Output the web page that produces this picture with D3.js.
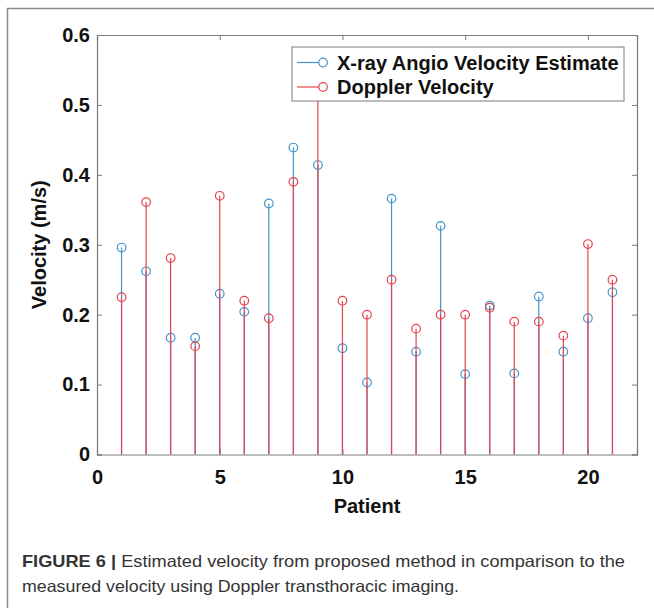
<!DOCTYPE html>
<html>
<head>
<meta charset="utf-8">
<script src="https://cdn.jsdelivr.net/npm/d3@7"></script>
<style>
  body { margin: 0; background: #fff; }
  .tick text { font-family: "Liberation Sans", Arial, sans-serif; font-weight: bold; font-size: 20px; fill: #111; }
  .tick line, .domain { stroke: #7a7a7a; }
</style>
</head>
<body>
<div id="chart"></div>
<script>
// data
var patients = [1,2,3,4,5,6,7,8,9,10,11,12,13,14,15,16,17,18,19,20,21];
var angio   = [0.296,0.262,0.167,0.167,0.230,0.204,0.359,0.439,0.414,0.152,0.103,0.366,0.147,0.327,0.115,0.213,0.116,0.226,0.147,0.195,0.232];
var doppler = [0.225,0.361,0.281,0.155,0.370,0.220,0.195,0.390,0.550,0.220,0.200,0.250,0.180,0.200,0.200,0.210,0.190,0.190,0.170,0.301,0.250];
var xTicks = [0,5,10,15,20];
var yTicks = [0,0.1,0.2,0.3,0.4,0.5,0.6];
var seriesNames = ["X-ray Angio Velocity Estimate", "Doppler Velocity"];
var seriesColors = ["#4295cc", "#e3434d"];

var svgWidth = 654, svgHeight = 608;
var margin = {top: 35, right: 17, bottom: 153.5, left: 97};
var width = svgWidth - margin.left - margin.right;
var height = svgHeight - margin.top - margin.bottom;

var svg = d3.select("#chart").append("svg")
  .attr("width", svgWidth)
  .attr("height", svgHeight);

// figure frame (only left/top edges fall inside the picture)
svg.append("rect")
  .attr("x", 7.5).attr("y", 8.5)
  .attr("width", 700).attr("height", 700)
  .attr("fill", "none")
  .attr("stroke", "#8a8a8a")
  .attr("stroke-width", 1.5);

var chartGroup = svg.append("g")
  .attr("transform", `translate(${margin.left}, ${margin.top})`);

var x = d3.scaleLinear().domain([0, 22]).range([0, width]);
var y = d3.scaleLinear().domain([0, 0.6]).range([height, 0]);

chartGroup.append("defs").append("clipPath").attr("id", "plotclip")
  .append("rect").attr("width", width).attr("height", height);

// axes, ticks point inward like matlab
chartGroup.append("g")
  .attr("transform", `translate(0, ${height})`)
  .call(d3.axisBottom(x).tickValues(xTicks).tickSize(-5).tickPadding(15).tickFormat(d3.format("d")));
chartGroup.append("g")
  .call(d3.axisTop(x).tickValues(xTicks).tickSize(-5).tickFormat(""));
chartGroup.append("g")
  .call(d3.axisLeft(y).tickValues(yTicks).tickSize(-5).tickPadding(7).tickFormat(d => d === 0 ? "0" : d3.format(".1f")(d)));
chartGroup.append("g")
  .attr("transform", `translate(${width}, 0)`)
  .call(d3.axisRight(y).tickValues(yTicks).tickSize(-5).tickFormat(""));
chartGroup.selectAll(".domain").attr("stroke-width", 1.2);

// stems
var plot = chartGroup.append("g").attr("clip-path", "url(#plotclip)");
[angio, doppler].forEach(function(vals, i) {
  var g = plot.append("g");
  g.selectAll("line")
    .data(vals)
    .enter()
    .append("line")
    .attr("x1", (d, j) => x(patients[j]))
    .attr("x2", (d, j) => x(patients[j]))
    .attr("y1", y(0))
    .attr("y2", d => y(d))
    .attr("stroke", seriesColors[i])
    .attr("stroke-width", 1.2);
  g.selectAll("circle")
    .data(vals)
    .enter()
    .append("circle")
    .attr("cx", (d, j) => x(patients[j]))
    .attr("cy", d => y(d))
    .attr("r", 4.3)
    .attr("fill", "none")
    .attr("stroke", seriesColors[i])
    .attr("stroke-width", 1.2);
});

// legend
var legend = chartGroup.append("g").attr("transform", `translate(${292 - margin.left}, ${47 - margin.top})`);
legend.append("rect")
  .attr("width", 332).attr("height", 54)
  .attr("fill", "#fff")
  .attr("stroke", "#7a7a7a")
  .attr("stroke-width", 1);
seriesNames.forEach(function(name, i) {
  var ly = 15.5 + i * 24.5;
  legend.append("line").attr("x1", 5).attr("x2", 31).attr("y1", ly).attr("y2", ly)
    .attr("stroke", seriesColors[i]).attr("stroke-width", 1.2);
  legend.append("circle").attr("cx", 31).attr("cy", ly).attr("r", 4.3)
    .attr("fill", "#fff").attr("stroke", seriesColors[i]).attr("stroke-width", 1.2);
  legend.append("text")
    .attr("x", 45).attr("y", ly).attr("dy", "0.35em")
    .attr("font-family", "Liberation Sans, Arial, sans-serif")
    .attr("font-weight", "bold").attr("font-size", "20px")
    .attr("fill", "#111")
    .text(name);
});

// axis labels
chartGroup.append("text")
  .attr("transform", "rotate(-90)")
  .attr("x", -height / 2)
  .attr("y", -51)
  .attr("text-anchor", "middle")
  .attr("font-family", "Liberation Sans, Arial, sans-serif")
  .attr("font-weight", "bold").attr("font-size", "20px")
  .attr("fill", "#111")
  .text("Velocity (m/s)");

chartGroup.append("text")
  .attr("x", width / 2)
  .attr("y", height + 58)
  .attr("text-anchor", "middle")
  .attr("font-family", "Liberation Sans, Arial, sans-serif")
  .attr("font-weight", "bold").attr("font-size", "20px")
  .attr("fill", "#111")
  .text("Patient");

// caption
var cap = svg.append("text")
  .attr("x", 22).attr("y", 567)
  .attr("font-family", "Liberation Sans, Arial, sans-serif")
  .attr("font-size", "16.5px")
  .attr("fill", "#333")
  .attr("textLength", 603)
  .attr("lengthAdjust", "spacingAndGlyphs");
cap.append("tspan").attr("font-weight", "bold").text("FIGURE 6 |");
cap.append("tspan").text(" Estimated velocity from proposed method in comparison to the");
svg.append("text")
  .attr("x", 22).attr("y", 592)
  .attr("font-family", "Liberation Sans, Arial, sans-serif")
  .attr("font-size", "16.5px")
  .attr("fill", "#333")
  .attr("textLength", 437)
  .attr("lengthAdjust", "spacingAndGlyphs")
  .text("measured velocity using Doppler transthoracic imaging.");
</script>
</body>
</html>
